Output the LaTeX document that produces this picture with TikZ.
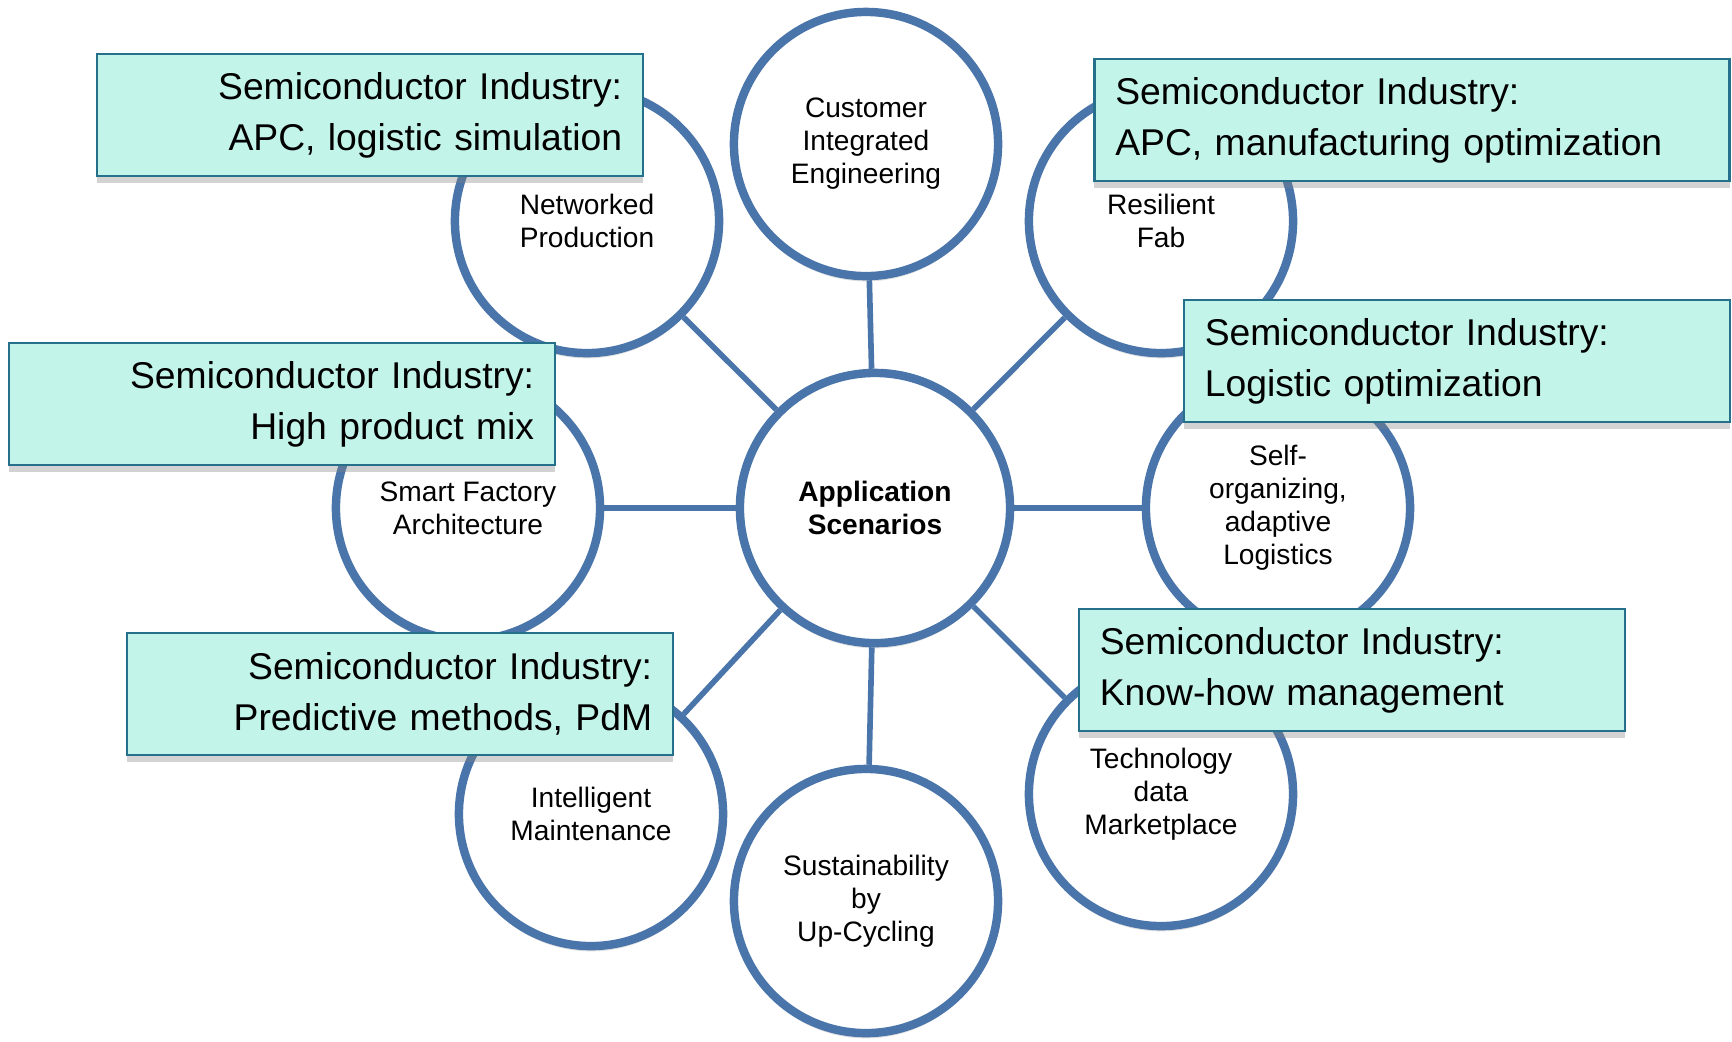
\documentclass[tikz,border=0pt]{standalone}
\usepackage{fontspec}
\setmainfont{Liberation Sans}
\usetikzlibrary{shadows}

\definecolor{ringblue}{RGB}{74,117,170}
\definecolor{boxfill}{RGB}{195,244,233}
\definecolor{boxline}{RGB}{38,112,140}

\begin{document}
\begin{tikzpicture}[x=0.01cm,y=-0.01cm,
  scenario/.style={circle,draw=ringblue,line width=2.4pt,fill=white,minimum size=2.64cm,inner sep=0pt,align=center,
    font=\fontsize{8}{9.4}\selectfont,drop shadow={shadow xshift=0pt,shadow yshift=-1.5pt,opacity=0.25}},
  link/.style={ringblue,line width=1.6pt},
  industry/.style={draw=boxline,line width=0.7pt,fill=boxfill,inner xsep=0.21cm,minimum height=1.22cm,text width=5.04cm,
    font=\fontsize{10.6}{14.5}\selectfont,drop shadow={shadow xshift=0pt,shadow yshift=-2pt,opacity=0.35}}]

\useasboundingbox (0,0) rectangle (1732,1041);

% hub and the eight scenarios round it
\node[scenario,minimum size=2.70cm,font=\fontsize{8}{9.4}\selectfont\bfseries] (hub) at (875,508) {Application\\Scenarios};

\node[scenario] (cie) at (866,144) {Customer\\Integrated\\Engineering};
\node[scenario] (np) at (587,221) {Networked\\Production};
\node[scenario] (rf) at (1161,221) {Resilient\\Fab};
\node[scenario] (sf) at (468,508) {Smart Factory\\Architecture};
\node[scenario] (so) at (1278,508) {Self-\\organizing,\\adaptive\\Logistics};
\node[scenario] (im) at (591,814) {Intelligent\\Maintenance};
\node[scenario] (su) at (866,901) {Sustainability\\by\\Up-Cycling};
\node[scenario] (td) at (1161,794) {Technology\\data\\Marketplace};

\foreach \s in {cie,np,rf,sf,so,im,su,td}
  \draw[link] (hub) -- (\s);

% semiconductor boxes on top
\node[industry,align=right] (tl) at (370,115) {Semiconductor Industry:\\APC, logistic simulation};
\node[industry,align=left,text width=5.93cm] (tr) at (1412,120) {Semiconductor Industry:\\APC, manufacturing optimization};
\node[industry,align=right] (ml) at (282,404) {Semiconductor Industry:\\High product mix};
\node[industry,align=left] (mr) at (1457,361) {Semiconductor Industry:\\Logistic optimization};
\node[industry,align=right] (bl) at (400,694) {Semiconductor Industry:\\Predictive methods, PdM};
\node[industry,align=left] (br) at (1352,670) {Semiconductor Industry:\\Know-how management};

\end{tikzpicture}
\end{document}
